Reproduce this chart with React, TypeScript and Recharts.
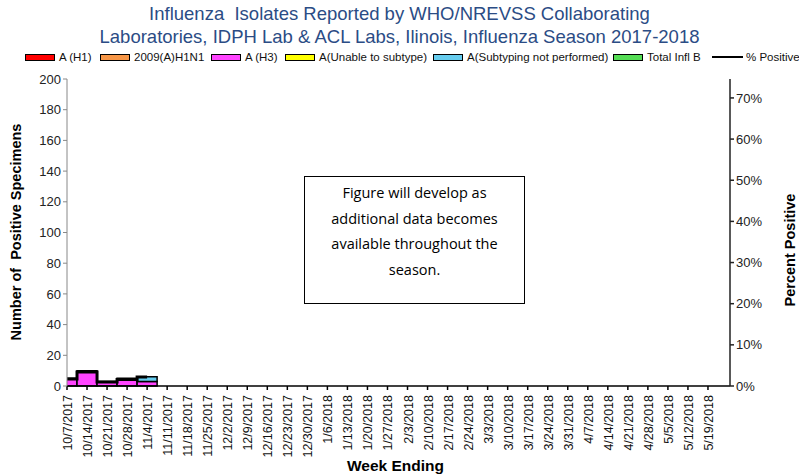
import { ComposedChart, Bar, Line, XAxis, YAxis } from "recharts";

// weeks of the 2017-2018 season
const weeks = [
  "10/7/2017", "10/14/2017", "10/21/2017", "10/28/2017", "11/4/2017", "11/11/2017",
  "11/18/2017", "11/25/2017", "12/2/2017", "12/9/2017", "12/16/2017", "12/23/2017",
  "12/30/2017", "1/6/2018", "1/13/2018", "1/20/2018", "1/27/2018", "2/3/2018",
  "2/10/2018", "2/17/2018", "2/24/2018", "3/3/2018", "3/10/2018", "3/17/2018",
  "3/24/2018", "3/31/2018", "4/7/2018", "4/14/2018", "4/21/2018", "4/28/2018",
  "5/5/2018", "5/12/2018", "5/19/2018",
];

// only the first five weeks are reported so far
const h1 = [0, 0, 0, 0, 0];
const h1n1 = [0, 0, 0, 0, 0];
const h3 = [5, 10, 3, 5, 3];
const unable = [0, 0, 0, 0, 0];
const notSubtyped = [0, 0, 0, 0, 3];
const infB = [0, 0, 0, 0, 0];
const pctPositive = [1.7, 3.4, 1.0, 1.6, 2.2];

const leftTicks = [0, 20, 40, 60, 80, 100, 120, 140, 160, 180, 200];
const rightTicks = [0, 10, 20, 30, 40, 50, 60, 70];

const series = [
  { key: "h1", label: "A (H1)", color: "#ff0000", values: h1 },
  { key: "h1n1", label: "2009(A)H1N1", color: "#f79646", values: h1n1 },
  { key: "h3", label: "A (H3)", color: "#ff44ff", values: h3 },
  { key: "unable", label: "A(Unable to subtype)", color: "#ffff00", values: unable },
  { key: "notSubtyped", label: "A(Subtyping not performed)", color: "#66ccee", values: notSubtyped },
  { key: "infB", label: "Total Infl B", color: "#55dd55", values: infB },
];

const data = weeks.map((week, i) => {
  const row: any = { idx: i, week, pct: i < pctPositive.length ? pctPositive[i] : null };
  series.forEach((s) => {
    row[s.key] = s.values[i] ?? 0;
  });
  return row;
});

const weekIdx = weeks.map((_, i) => i);
const legendX = [25, 100, 211, 285, 433, 613];

const WeekTick = ({ x, y, payload }: any) => (
  <text
    x={x + 5}
    y={y + 3}
    transform={`rotate(-90, ${x + 5}, ${y + 3})`}
    textAnchor="end"
    fontSize={12.5}
    fill="#111"
    fontFamily="Liberation Sans, Arial, sans-serif"
  >
    {weeks[payload.value]}
  </text>
);

export default function App() {
  const font = "Liberation Sans, Arial, sans-serif";
  const legendItem: any = {
    position: "absolute", top: 51, display: "flex", alignItems: "center",
    fontSize: 11.5, color: "#111", whiteSpace: "nowrap",
  };
  return (
    <div style={{ position: "fixed", left: 0, top: 0, width: 799, height: 476, background: "#fff", fontFamily: font, overflow: "hidden" }}>
      {/* title */}
      <div
        style={{
          position: "absolute", top: 2, left: 0, width: 799, textAlign: "center",
          fontSize: 18.5, lineHeight: "23px", color: "#2b4c85",
        }}
      >
        Influenza&nbsp; Isolates Reported by WHO/NREVSS Collaborating
        <br />
        Laboratories, IDPH Lab &amp; ACL Labs, Ilinois, Influenza Season 2017-2018
      </div>

      {/* legend */}
      {series.map((s, i) => (
        <div key={s.key} style={{ ...legendItem, left: legendX[i] }}>
          <span style={{ width: 28, height: 5, background: s.color, border: "1.5px solid #000", marginRight: 4, display: "inline-block" }} />
          {s.label}
        </div>
      ))}
      <div style={{ ...legendItem, left: 712 }}>
        <span style={{ width: 31, height: 2.5, background: "#000", marginRight: 3, display: "inline-block" }} />
        % Positive
      </div>

      <ComposedChart
        width={799}
        height={476}
        data={data}
        margin={{ top: 79, right: 0, left: 22, bottom: 10 }}
      >
        <XAxis
          dataKey="idx"
          type="number"
          domain={[0, 33.1]}
          ticks={weekIdx}
          interval={0}
          allowDataOverflow
          height={80}
          tick={<WeekTick />}
          stroke="#000"
          strokeWidth={1.5}
          tickSize={4}
        />
        <YAxis
          yAxisId="left"
          width={45}
          domain={[0, 200]}
          ticks={leftTicks}
          interval={0}
          stroke="#888"
          tickSize={4}
          tick={{ fontSize: 13, fill: "#222", fontFamily: font }}
        />
        <YAxis
          yAxisId="right"
          orientation="right"
          width={69}
          domain={[0, 74.6]}
          ticks={rightTicks}
          interval={0}
          stroke="#222"
          strokeWidth={1.5}
          tickSize={4}
          tickFormatter={(v) => `${v}%`}
          tick={{ fontSize: 13, fill: "#222", fontFamily: font, textAnchor: "start" }}
        />
        {series.map((s) => (
          <Bar
            key={s.key}
            yAxisId="left"
            dataKey={s.key}
            stackId="a"
            barSize={20}
            fill={s.color}
            stroke="#000"
            strokeWidth={1.5}
            isAnimationActive={false}
          />
        ))}
        <Line
          yAxisId="right"
          type="step"
          dataKey="pct"
          stroke="#000"
          strokeWidth={3}
          dot={false}
          isAnimationActive={false}
        />
      </ComposedChart>

      {/* axis titles */}
      <div
        style={{
          position: "absolute", left: 16, top: 232, transform: "translate(-50%, -50%) rotate(-90deg)",
          whiteSpace: "nowrap", fontSize: 14.5, fontWeight: "bold", color: "#000",
        }}
      >
        Number of&nbsp; Positive Specimens
      </div>
      <div
        style={{
          position: "absolute", left: 790, top: 250, transform: "translate(-50%, -50%) rotate(-90deg)",
          whiteSpace: "nowrap", fontSize: 14.5, fontWeight: "bold", color: "#000",
        }}
      >
        Percent Positive
      </div>
      <div style={{ position: "absolute", left: 347, top: 457, fontSize: 15.5, fontWeight: "bold", color: "#000" }}>
        Week Ending
      </div>

      {/* note box */}
      <div
        style={{
          position: "absolute", left: 304, top: 176, width: 221, height: 128, border: "1px solid #000",
          background: "#fff", display: "flex", alignItems: "center", justifyContent: "center",
          boxSizing: "border-box", paddingBottom: 18,
          textAlign: "center", fontFamily: "Open Sans, Lato, sans-serif", fontSize: 14.5, lineHeight: "25.5px", color: "#000",
        }}
      >
        Figure will develop as
        <br />
        additional data becomes
        <br />
        available throughout the
        <br />
        season.
      </div>
    </div>
  );
}
